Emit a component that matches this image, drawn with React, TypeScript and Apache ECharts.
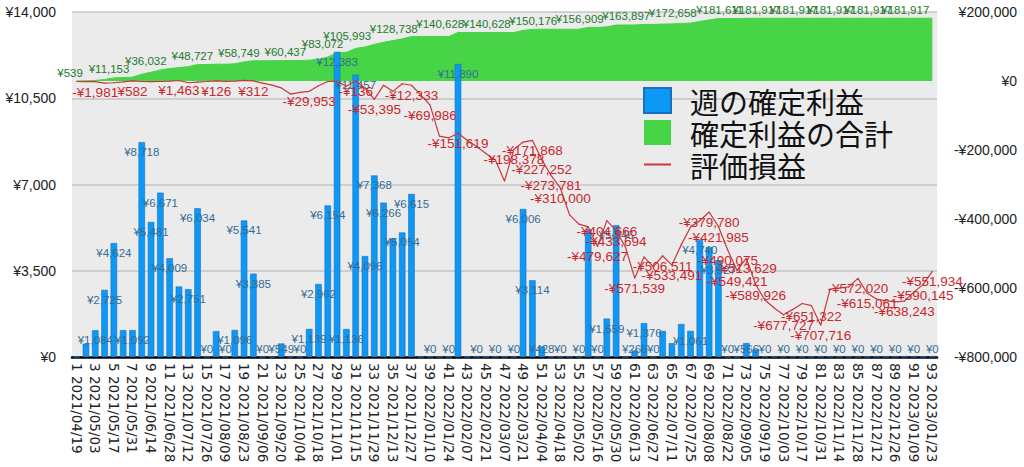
import { useEffect, useRef } from 'react';
import * as echarts from 'echarts';

const START_UTC = Date.UTC(2021, 3, 19);
const pad = (n: number) => String(n).padStart(2, '0');
const weekLabels: string[] = Array.from({ length: 93 }, (_, i) => {
  const d = new Date(START_UTC + i * 7 * 86400000);
  return `${i + 1} ${d.getUTCFullYear()}/${pad(d.getUTCMonth() + 1)}/${pad(d.getUTCDate())}`;
});

// 週の確定利益 (left axis)
const weeklyProfit = [
  0, 539, 1084, 2725, 4624, 1089, 1092, 8718, 5481, 6671,
  4009, 2860, 2751, 6034, 0, 1050, 0, 1096, 5541, 3385,
  0, 0, 549, 0, 0, 1139, 2962, 6154, 12383, 1136,
  11457, 4096, 7368, 6266, 4810, 5054, 6615, 0, 0, 0,
  0, 11890, 0, 0, 0, 0, 0, 0, 6006, 3114,
  428, 0, 0, 0, 0, 5174, 0, 1559, 5346, 0,
  266, 1376, 0, 1060, 560, 1340, 1061, 4740, 4460, 3927,
  0, 0, 566, 306, 0, 0, 0, 0, 0, 0,
  0, 0, 0, 0, 0, 0, 0, 0, 0, 0,
  0, 0, 0,
];

// 確定利益の合計 (right axis)
const cumulativeProfit = [
  0, 539, 1623, 4348, 8972, 10061, 11153, 19871, 25352, 32023,
  36032, 38892, 41643, 47677, 47677, 48727, 48727, 49823, 55364, 58749,
  58749, 58749, 59298, 59298, 59298, 60437, 63399, 69553, 81936, 83072,
  94529, 98625, 105993, 112259, 117069, 122123, 128738, 128738, 128738, 128738,
  128738, 140628, 140628, 140628, 140628, 140628, 140628, 140628, 146634, 149748,
  150176, 150176, 150176, 150176, 150176, 155350, 155350, 156909, 162255, 162255,
  162521, 163897, 163897, 164957, 165517, 166857, 167918, 172658, 177118, 181045,
  181045, 181045, 181611, 181917, 181917, 181917, 181917, 181917, 181917, 181917,
  181917, 181917, 181917, 181917, 181917, 181917, 181917, 181917, 181917, 181917,
  181917, 181917, 181917,
];

// 評価損益 (right axis)
const unrealized = [
  -1500, -2000, -1981, -6000, -5000, -2500, 582, -1500, -2000, -1500,
  -500, 1463, -5000, -3000, -1500, 126, -1000, -500, 2000, 312,
  -6000, -12000, -20000, -38000, -33000, -29953, -14000, -1500, -1000, -15000,
  -136, -20000, -53395, -12000, -30000, -8000, -12333, -40000, -69986, -160000,
  -165000, -151619, -172000, -190000, -210000, -228000, -290000, -198378, -177000, -171868,
  -227252, -273781, -310000, -388000, -415000, -423000, -479627, -404666, -433694, -481000,
  -571539, -510000, -539000, -506511, -533491, -475000, -423000, -405000, -379780, -421985,
  -490075, -549421, -513629, -589926, -635000, -658000, -677727, -662000, -645000, -651322,
  -707716, -603000, -600000, -597000, -572020, -615061, -632000, -637000, -640000, -638243,
  -612000, -590145, -551934,
];

// categories (1-based) whose value label is printed
const weeklyLabelShown = [3, 4, 5, 7, 8, 9, 10, 11, 13, 14, 15, 17, 18, 19, 20, 21, 23, 25, 26, 27, 28, 29, 30, 31, 32, 33, 34, 36, 37, 39, 41, 42, 44, 46, 48, 49, 50, 51, 53, 55, 57, 58, 59, 61, 62, 63, 67, 68, 70, 71, 73, 75, 77, 79, 81, 83, 85, 87, 89, 91, 93];
const cumulativeLabelShown = [2, 7, 11, 16, 21, 26, 30, 33, 38, 43, 48, 53, 58, 63, 68, 73, 77, 81, 85, 89, 93];
const unrealizedLabelShown = [3, 7, 12, 16, 20, 26, 31, 33, 37, 39, 42, 48, 50, 51, 52, 53, 57, 58, 59, 61, 64, 65, 69, 70, 71, 72, 73, 74, 77, 80, 81, 85, 86, 90, 92, 93];

const LEFT_MIN = 0, LEFT_MAX = 14000, LEFT_STEP = 3500;
const RIGHT_MIN = -800000, RIGHT_MAX = 200000, RIGHT_STEP = 200000;

const NAME_WEEK = '週の確定利益';
const NAME_SUM = '確定利益の合計';
const NAME_EVAL = '評価損益';

const yen = (v: number) => (v < 0 ? '-' : '') + '¥' + Math.abs(Math.round(v)).toLocaleString('en-US');

const NUM_FONT = 'Liberation Sans, Arial, sans-serif';

export default function App() {
  const ref = useRef<HTMLDivElement>(null);
  useEffect(() => {
    if (!ref.current) return;
    const chart = echarts.init(ref.current, undefined, { renderer: 'svg' });
    const wShown = new Set(weeklyLabelShown);
    const cShown = new Set(cumulativeLabelShown);
    const uShown = new Set(unrealizedLabelShown);
    const barScale = 345 / LEFT_MAX;
    chart.setOption({
      animation: false,
      backgroundColor: '#ffffff',
      textStyle: { fontFamily: NUM_FONT },
      grid: {
        left: 72, right: 87, top: 12, bottom: 110,
        show: true, backgroundColor: '#ebebeb', borderWidth: 0,
      },
      legend: {
        orient: 'vertical', left: 643, top: 86, padding: 0,
        itemWidth: 27, itemHeight: 25, itemGap: 3,
        textStyle: { fontSize: 29, fontFamily: 'Noto Sans CJK JP', color: '#111', padding: [0, 0, 0, 14] },
        data: [
          { name: NAME_WEEK, icon: 'rect' },
          { name: NAME_SUM, icon: 'rect' },
          { name: NAME_EVAL, itemStyle: { opacity: 0 } },
        ],
      },
      xAxis: {
        type: 'category', data: weekLabels, boundaryGap: true,
        axisTick: { show: false },
        axisLine: { lineStyle: { color: '#000', width: 2.5 } },
        axisLabel: {
          interval: 1, rotate: -90, margin: 6,
          fontFamily: 'DejaVu Sans', fontSize: 13.5, color: '#222',
        },
      },
      yAxis: [
        {
          type: 'value', min: LEFT_MIN, max: LEFT_MAX, interval: LEFT_STEP,
          axisLine: { show: false }, axisTick: { show: false },
          axisLabel: { formatter: (v: number) => yen(v), fontSize: 14, color: '#222', margin: 16, fontFamily: NUM_FONT },
          splitLine: { lineStyle: { color: '#c4c4c4', width: 1.5 } },
        },
        {
          type: 'value', min: RIGHT_MIN, max: RIGHT_MAX, interval: RIGHT_STEP, position: 'right',
          axisLine: { show: false }, axisTick: { show: false },
          axisLabel: { formatter: (v: number) => yen(v), fontSize: 14, color: '#222', margin: 80, align: 'right', fontFamily: NUM_FONT },
          splitLine: { show: false },
        },
      ],
      series: [
        {
          name: NAME_SUM, type: 'line', yAxisIndex: 1, z: 1,
          data: cumulativeProfit.map((v, i) => ({ value: v, label: { show: cShown.has(i + 1) } })),
          symbol: 'circle', symbolSize: 0.1,
          itemStyle: { color: '#47d447' },
          lineStyle: { color: '#47d447', width: 1 },
          areaStyle: { color: '#47d447', opacity: 1 },
          label: {
            position: 'left', distance: 3, offset: [0, -8],
            color: '#237a2d', fontSize: 11.5, fontFamily: NUM_FONT,
            formatter: (p: any) => yen(p.value),
          },
        },
        {
          name: NAME_WEEK, type: 'bar', yAxisIndex: 0, z: 2, barWidth: 6.5,
          data: weeklyProfit.map((v, i) => {
            const small = v * barScale < 20;
            return {
              value: v,
              label: { show: wShown.has(i + 1), position: small ? 'insideBottom' : 'insideTop', distance: small ? 2 : 4 },
            };
          }),
          itemStyle: { color: '#0c98f4', borderColor: '#1b6fbf', borderWidth: 0.6 },
          label: {
            color: '#346c96', fontSize: 11.5, fontFamily: NUM_FONT,
            formatter: (p: any) => yen(p.value),
          },
        },
        {
          name: NAME_EVAL, type: 'line', yAxisIndex: 1, z: 3,
          data: unrealized.map((v, i) => ({ value: v, label: { show: uShown.has(i + 1) } })),
          symbol: 'circle', symbolSize: 1,
          itemStyle: { color: '#c8373c' },
          lineStyle: { color: '#c8373c', width: 1.2 },
          label: {
            position: 'bottom', distance: 3,
            color: '#c9272e', fontSize: 13.5, fontFamily: NUM_FONT,
            formatter: (p: any) => yen(p.value),
          },
        },
      ],
    });
    return () => chart.dispose();
  }, []);
  return <div ref={ref} style={{ position: 'fixed', left: 0, top: 0, width: 1024, height: 467 }} />;
}
